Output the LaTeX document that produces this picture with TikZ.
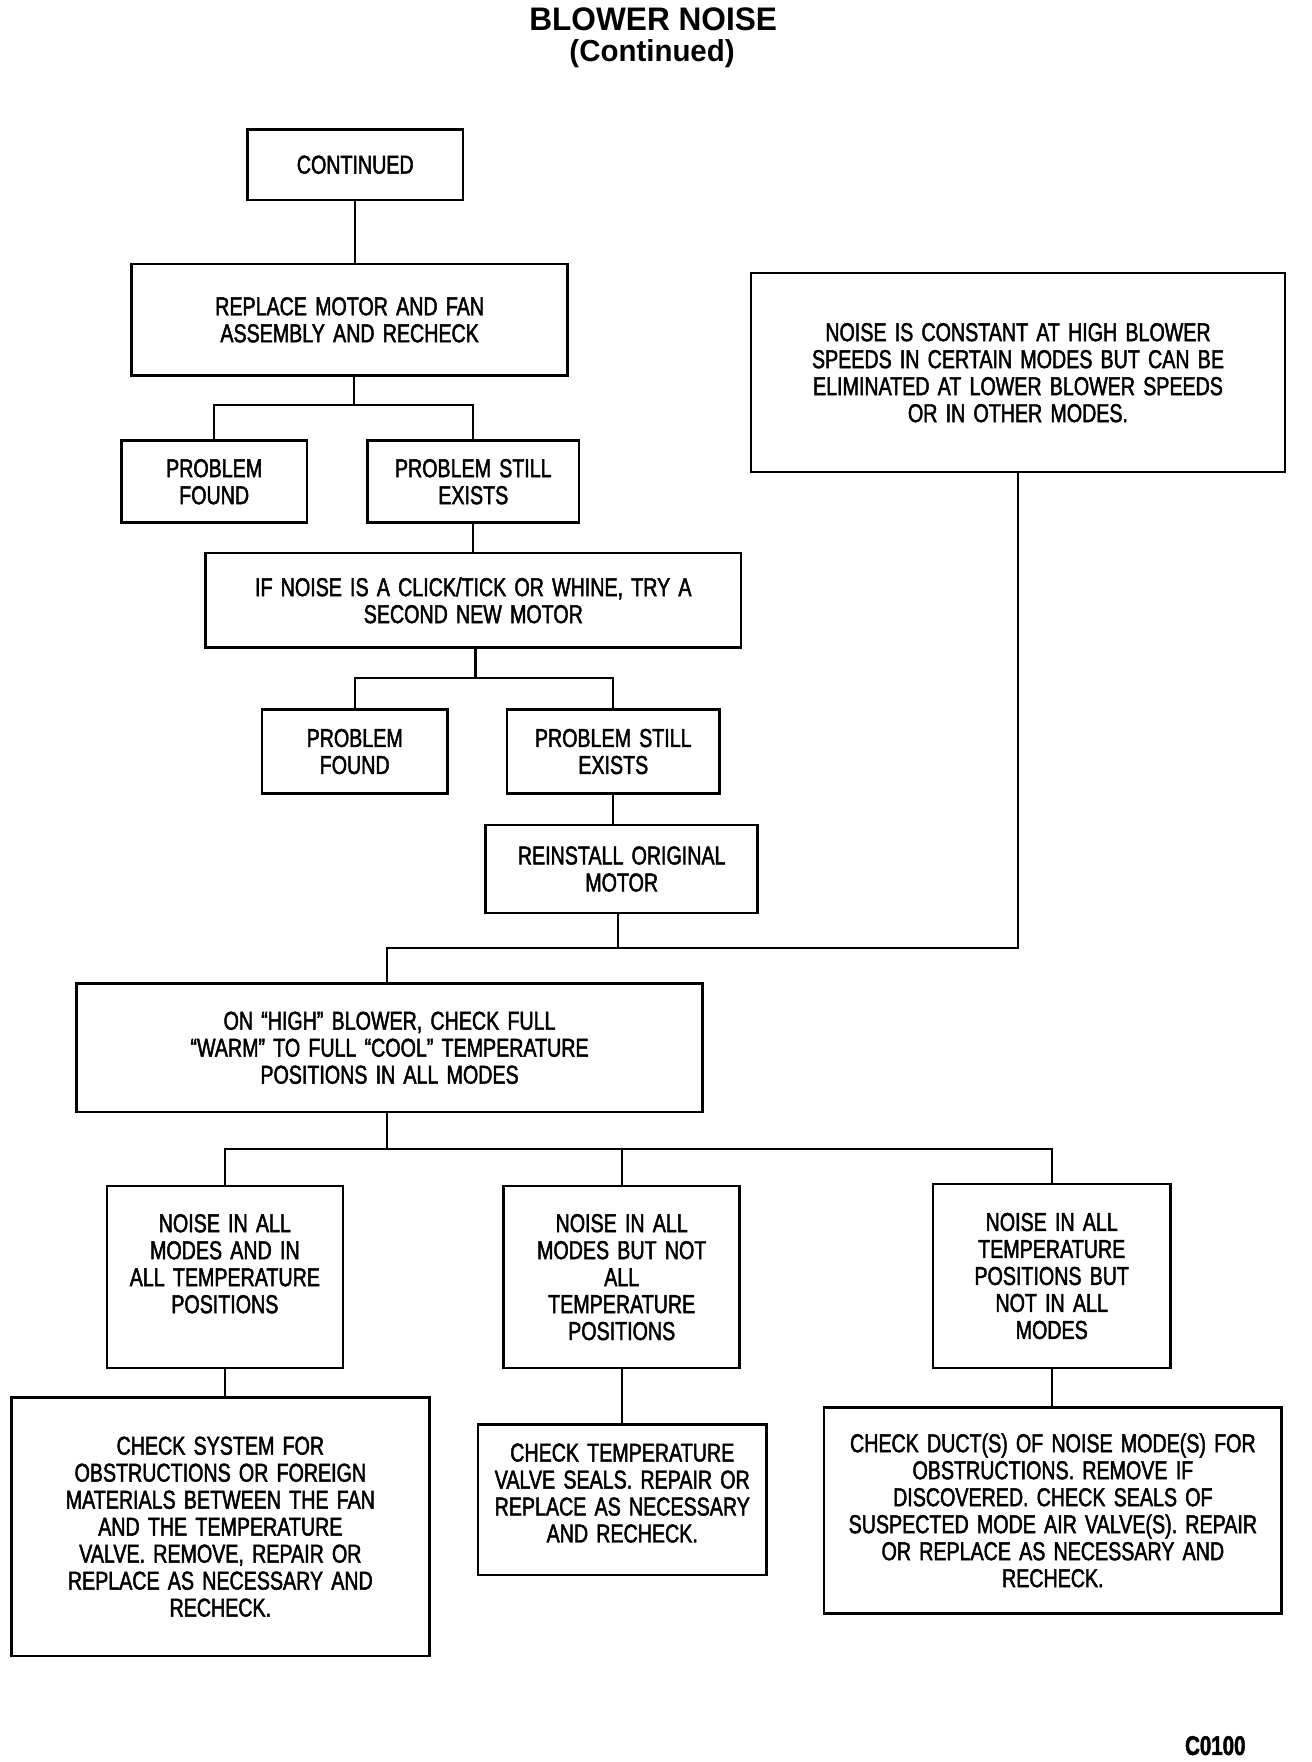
\documentclass[tikz,border=0pt]{standalone}
\usepackage{fontspec}
\setmainfont{Liberation Sans}[FakeStretch=0.76,WordSpace=1.5,FakeBold=1.8]
\newfontfamily\titlefont{Liberation Sans}[FakeStretch=0.97]
\begin{document}
\begin{tikzpicture}[x=1pt,y=-1pt,
  box/.style={draw,line width=2.3pt,inner sep=0pt,align=center,
    font=\fontsize{23}{24}\selectfont},
  conn/.style={line width=1.9pt}]
\useasboundingbox (0,0) rectangle (1167,1567.3);
\node[font=\titlefont\bfseries\fontsize{29}{30}\selectfont,anchor=base] (t1) at (581,27.5) {BLOWER NOISE};
\node[font=\titlefont\bfseries\fontsize{27}{30}\selectfont,anchor=base] (t2) at (580,55) {(Continued)};
\node[box,minimum width=192,minimum height=63] (cont) at (316,146.5) {CONTINUED};
\node[box,minimum width=388,minimum height=99] (rep) at (311,284.5) {REPLACE MOTOR AND FAN\\ASSEMBLY AND RECHECK};
\node[box,minimum width=165,minimum height=73] (pf1) at (190.5,428.5) {PROBLEM\\FOUND};
\node[box,minimum width=188,minimum height=73] (pse1) at (421,428.5) {PROBLEM STILL\\EXISTS};
\node[box,minimum width=476,minimum height=84] (ifn) at (421,534) {IF NOISE IS A CLICK/TICK OR WHINE, TRY A\\SECOND NEW MOTOR};
\node[box,minimum width=165,minimum height=75] (pf2) at (315.5,668.5) {PROBLEM\\FOUND};
\node[box,minimum width=189,minimum height=75] (pse2) at (545.5,668.5) {PROBLEM STILL\\EXISTS};
\node[box,minimum width=242,minimum height=78] (rei) at (553,773) {REINSTALL ORIGINAL\\MOTOR};
\node[box,minimum width=475,minimum height=177] (nc) at (905.5,331.5) {NOISE IS CONSTANT AT HIGH BLOWER\\SPEEDS IN CERTAIN MODES BUT CAN BE\\ELIMINATED AT LOWER BLOWER SPEEDS\\OR IN OTHER MODES.};
\node[box,minimum width=557,minimum height=114] (onh) at (346.5,932) {ON “HIGH” BLOWER, CHECK FULL\\“WARM” TO FULL “COOL” TEMPERATURE\\POSITIONS IN ALL MODES};
\node[box,minimum width=210,minimum height=162] (n1) at (200,1136) {NOISE IN ALL\\MODES AND IN\\ALL TEMPERATURE\\POSITIONS\\\mbox{}};
\node[box,minimum width=210,minimum height=162] (n2) at (553,1136) {NOISE IN ALL\\MODES BUT NOT\\ALL\\TEMPERATURE\\POSITIONS};
\node[box,minimum width=211,minimum height=164] (n3) at (935.5,1135) {NOISE IN ALL\\TEMPERATURE\\POSITIONS BUT\\NOT IN ALL\\MODES};
\node[box,minimum width=372,minimum height=230] (cs) at (196,1358) {CHECK SYSTEM FOR\\OBSTRUCTIONS OR FOREIGN\\MATERIALS BETWEEN THE FAN\\AND THE TEMPERATURE\\VALVE. REMOVE, REPAIR OR\\REPLACE AS NECESSARY AND\\RECHECK.};
\node[box,minimum width=257,minimum height=134] (ct) at (553.5,1334) {CHECK TEMPERATURE\\VALVE SEALS. REPAIR OR\\REPLACE AS NECESSARY\\AND RECHECK.\\[-12pt]\mbox{}};
\node[box,minimum width=407,minimum height=183] (cd) at (936.5,1343.5) {CHECK DUCT(S) OF NOISE MODE(S) FOR\\OBSTRUCTIONS. REMOVE IF\\DISCOVERED. CHECK SEALS OF\\SUSPECTED MODE AIR VALVE(S). REPAIR\\OR REPLACE AS NECESSARY AND\\RECHECK.};
\node[font=\bfseries\fontsize{24}{24}\selectfont,anchor=base] (code) at (1081,1561) {C0100};
\coordinate (j1) at (315,360);
\coordinate (j2) at (423,603);
\coordinate (j3) at (550,843);
\coordinate (j4) at (344,1022);
\draw[conn] (cont.south) -- (cont.south |- rep.north);
\draw[conn] (rep.south -| j1) -- (j1);
\draw[conn] (pf1.north) |- (j1) -| (pse1.north);
\draw[conn] (pse1.south) -- (pse1.south |- ifn.north);
\draw[conn] (ifn.south -| j2) -- (j2);
\draw[conn] (pf2.north) |- (j2) -| (pse2.north);
\draw[conn] (pse2.south) -- (pse2.south |- rei.north);
\draw[conn] (rei.south -| j3) -- (j3);
\draw[conn] (onh.north -| j4) |- (j3) -| (nc.south);
\draw[conn] (onh.south -| j4) -- (j4);
\draw[conn] (n1.north) |- (j4) -| (n3.north);
\draw[conn] (n2.north) -- (n2.north |- j4);
\draw[conn] (n1.south) -- (n1.south |- cs.north);
\draw[conn] (n2.south) -- (n2.south |- ct.north);
\draw[conn] (n3.south) -- (n3.south |- cd.north);
\end{tikzpicture}
\end{document}
